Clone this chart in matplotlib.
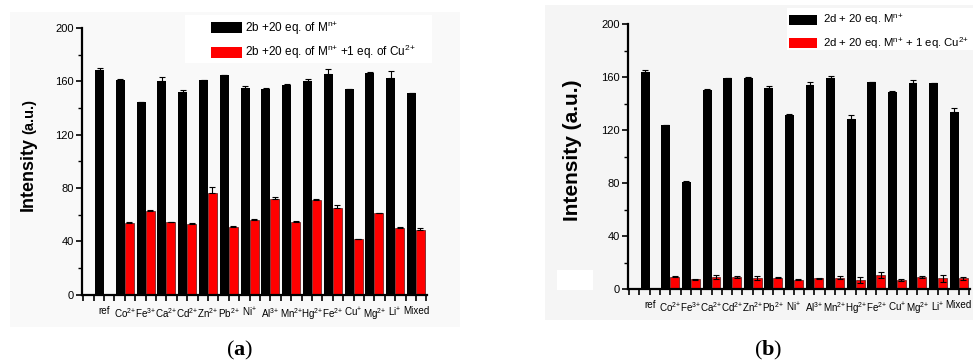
import matplotlib
matplotlib.use("Agg")
import matplotlib.pyplot as plt
import numpy as np
from matplotlib.patches import Patch, Rectangle

plt.rcParams['font.family'] = ['Liberation Sans', 'DejaVu Sans']
plt.rcParams['mathtext.default'] = 'regular'
plt.rcParams['mathtext.fontset'] = 'custom'
plt.rcParams['mathtext.bf'] = 'Liberation Serif:bold'

# ---- data ----
ions = ["ref", "Co$^{2{+}}$", "Fe$^{3{+}}$", "Ca$^{2{+}}$", "Cd$^{2{+}}$", "Zn$^{2{+}}$",
        "Pb$^{2{+}}$", "Ni$^{{+}}$", "Al$^{3{+}}$", "Mn$^{2{+}}$", "Hg$^{2{+}}$",
        "Fe$^{2{+}}$", "Cu$^{{+}}$", "Mg$^{2{+}}$", "Li$^{{+}}$", "Mixed"]

a_metal = [168.5, 161, 144.8, 160, 151.8, 160.8, 164.5, 155.3, 154.3, 157.5,
           160.3, 165.5, 154, 166.5, 162.8, 151.3]
a_metal_err = [1.3, 0.5, 0, 3.5, 1.5, 0.5, 0.5, 1.2, 0.5, 0.5, 1.2, 3.5, 0, 0.5, 5.2, 0]
a_cu = [0, 53.8, 62.8, 54.3, 52.8, 76.3, 51, 56, 71.8, 54.3, 71, 65, 41.5, 61, 50.3, 48.8]
a_cu_err = [0, 1, 1, 0.5, 1, 4.5, 0.5, 1, 1.5, 1, 0.5, 2.5, 0.3, 0.5, 0.5, 1]

b_metal = [164.2, 123.8, 80.7, 150.4, 159.2, 159.5, 151.7, 131.3, 154.2, 159.7,
           128.5, 156.2, 149.1, 155.7, 155.5, 133.6]
b_metal_err = [1, 0.3, 1, 0.5, 0.5, 1, 1.5, 1.3, 2, 1.5, 3, 0.3, 0.5, 2.3, 0.3, 3.5]
b_cu = [0, 9.5, 7.5, 9.3, 9.3, 8.8, 8.8, 7.3, 8.3, 8.8, 7, 10.8, 7, 9.3, 8.3, 8.3]
b_cu_err = [0, 0.5, 0.3, 1.5, 1, 1.5, 0.5, 0.5, 0.5, 1, 2.5, 2, 1, 1, 2.5, 1]

a_labels = ["2b +20 eq. of M$^{n{+}}$", "2b +20 eq. of M$^{n{+}}$ +1 eq. of Cu$^{2{+}}$"]
b_labels = ["2d + 20 eq. M$^{n{+}}$", "2d + 20 eq. M$^{n{+}}$ + 1 eq. Cu$^{2{+}}$"]

W, H = 973, 363
fig = plt.figure(figsize=(W / 100, H / 100), dpi=100)


def fx(px):
    return px / W


def fy(py):
    return 1 - py / H


def add_rect(x0, y0, x1, y1, color):
    fig.patches.append(Rectangle((fx(x0), fy(y1)), fx(x1 - x0), (y1 - y0) / H,
                                 transform=fig.transFigure, facecolor=color,
                                 edgecolor='none', zorder=-5))


# panel backgrounds
add_rect(10, 12, 460, 327, '#f9f9f9')
add_rect(185, 15, 432, 63, 'white')
add_rect(545, 5, 973, 320, '#f5f5f5')
add_rect(787, 8, 973, 50, 'white')
add_rect(557, 270, 593, 290, 'white')


def panel(box, xlim, metal, metal_err, cu, cu_err, sym_err):
    left, top, right, bottom = box
    ax = fig.add_axes([fx(left), fy(bottom), fx(right - left), (bottom - top) / H])
    ax.set_facecolor('none')
    x = np.arange(len(ions))
    w = 0.43
    ax.bar(x - w / 2, metal, w, color='black', zorder=2)
    ax.bar(x + w / 2, cu, w, color='#ff0000', edgecolor='#300000', linewidth=0.4, zorder=2)
    z = np.zeros(len(ions))
    ax.errorbar(x - w / 2, metal, yerr=[z, metal_err], fmt='none', ecolor='black',
                elinewidth=0.8, capsize=2, capthick=0.8, zorder=3)
    cerr = [cu_err, cu_err] if sym_err else [z, cu_err]
    mask = np.array(cu) > 0
    ax.errorbar((x + w / 2)[mask], np.array(cu)[mask],
                yerr=[np.array(cerr[0])[mask], np.array(cerr[1])[mask]],
                fmt='none', ecolor='black', elinewidth=0.8, capsize=2,
                capthick=0.8, zorder=3)
    ax.set_xlim(*xlim)
    ax.set_ylim(0, 200)
    ax.set_yticks(np.arange(0, 201, 40))
    ax.set_yticks(np.arange(20, 200, 40), minor=True)
    ax.set_xticks(x)
    ax.set_xticklabels(ions, fontsize=7.1)
    ax.set_xticks([v for v in np.arange(-1, 15.6, 0.5) if v % 1 != 0 or v < 0], minor=True)
    ax.tick_params(axis='y', which='major', length=4, width=1.2, labelsize=8, pad=2)
    ax.tick_params(axis='y', which='minor', length=3, width=1.0)
    ax.tick_params(axis='x', which='both', length=4, width=1.2, pad=4)
    for s in ('top', 'right'):
        ax.spines[s].set_visible(False)
    for s in ('left', 'bottom'):
        ax.spines[s].set_linewidth(1.6)
    return ax


ax_a = panel((82, 28, 427, 294.7), (-1.06, 15.53), a_metal, a_metal_err, a_cu, a_cu_err, False)
ax_b = panel((628.3, 24.3, 970, 289.3), (-1.04, 15.55), b_metal, b_metal_err, b_cu, b_cu_err, True)

handles = [Patch(facecolor='black'), Patch(facecolor='#ff0000')]
ax_a.legend(handles, a_labels, loc='upper left', bbox_to_anchor=(fx(211), fy(20)),
            bbox_transform=fig.transFigure, frameon=False, fontsize=8.5,
            handlelength=2.6, handleheight=1.0, handletextpad=0.3,
            labelspacing=0.55, borderaxespad=0, borderpad=0)
ax_b.legend(handles, b_labels, loc='upper left', bbox_to_anchor=(fx(789), fy(13)),
            bbox_transform=fig.transFigure, frameon=False, fontsize=8.2,
            handlelength=2.5, handleheight=1.05, handletextpad=0.5,
            labelspacing=0.6, borderaxespad=0, borderpad=0)

# y-axis titles
fig.text(fx(33), fy(211), "Intensity", rotation=90, rotation_mode='anchor',
         ha='left', va='baseline', fontsize=13, fontweight='bold')
fig.text(fx(33), fy(134), "(a.u.)", rotation=90, rotation_mode='anchor',
         ha='left', va='baseline', fontsize=10.5, fontweight='bold')
fig.text(fx(572), fy(150), "Intensity (a.u.)", rotation=90, ha='center',
         va='center', fontsize=15, fontweight='bold')

# panel captions
fig.text(fx(240), fy(350), r"($\mathbf{a}$)", ha='center', va='center',
         fontsize=16, family='Liberation Serif')
fig.text(fx(768), fy(350), r"($\mathbf{b}$)", ha='center', va='center',
         fontsize=16, family='Liberation Serif')

fig.savefig("out.png", dpi=100)
